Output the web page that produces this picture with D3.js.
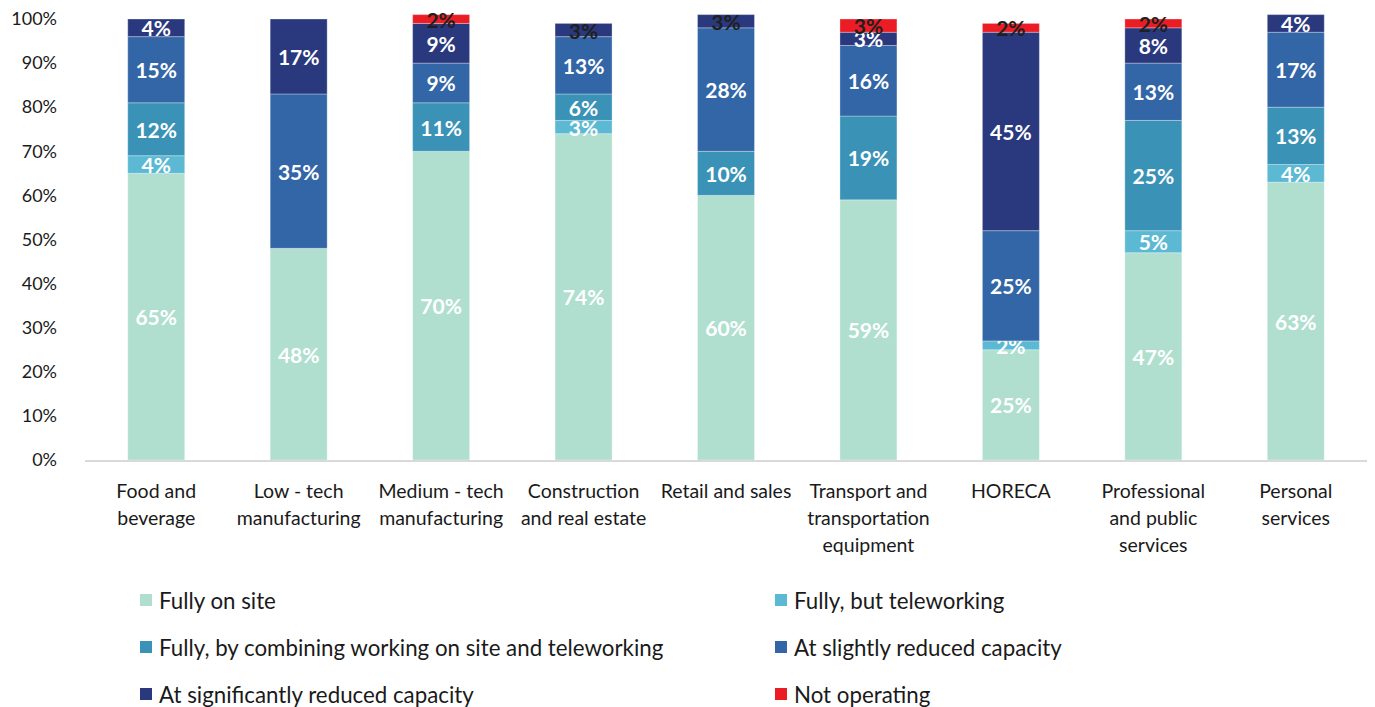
<!DOCTYPE html>
<html>
<head>
<meta charset="utf-8">
<script src="https://cdn.jsdelivr.net/npm/d3@7"></script>
<style>
  body { margin: 0; background: #ffffff; }
  svg text { font-family: Lato, "Open Sans", sans-serif; }
</style>
</head>
<body>
<svg id="chart" width="1375" height="707"></svg>
<script>
// Sector names ("\n" marks where the axis label wraps)
const categories = [
  "Food and\nbeverage",
  "Low - tech\nmanufacturing",
  "Medium - tech\nmanufacturing",
  "Construction\nand real estate",
  "Retail and sales",
  "Transport and\ntransportation\nequipment",
  "HORECA",
  "Professional\nand public\nservices",
  "Personal\nservices"
];

// Operating status, in stacking order (bottom to top)
const seriesNames = [
  "Fully on site",
  "Fully, but teleworking",
  "Fully, by combining working on site and teleworking",
  "At slightly reduced capacity",
  "At significantly reduced capacity",
  "Not operating"
];

// Share of firms (%) per sector
const fullyOnSite          = [65, 48, 70, 74, 60, 59, 25, 47, 63];
const fullyTeleworking     = [ 4,  0,  0,  3,  0,  0,  2,  5,  4];
const fullyCombining       = [12,  0, 11,  6, 10, 19,  0, 25, 13];
const slightlyReduced      = [15, 35,  9, 13, 28, 16, 25, 13, 17];
const significantlyReduced = [ 4, 17,  9,  3,  3,  3, 45,  8,  4];
const notOperating         = [ 0,  0,  2,  0,  0,  3,  2,  2,  0];

const yTickValues = [0, 0.1, 0.2, 0.3, 0.4, 0.5, 0.6, 0.7, 0.8, 0.9, 1.0];

const seriesColors = ["#b0dfcf", "#5cb9d3", "#3a93b6", "#3366a6", "#2a397e", "#ec1c24"];

const seriesValues = [fullyOnSite, fullyTeleworking, fullyCombining,
                      slightlyReduced, significantlyReduced, notOperating];

// Build one row per sector for d3.stack
const rows = categories.map((c, i) => {
  const r = { category: c };
  seriesNames.forEach((s, k) => { r[s] = seriesValues[k][i] / 100; });
  return r;
});

const svg = d3.select("#chart");

const x = d3.scaleBand()
  .domain(categories)
  .range([85, 1367])
  .paddingInner(0.6)
  .paddingOuter(0.3);

const y = d3.scaleLinear()
  .domain([0, 1])
  .range([460, 19]);

const color = d3.scaleOrdinal().domain(seriesNames).range(seriesColors);

const stacked = d3.stack().keys(seriesNames)(rows);

// Y axis: labels only
const yAxis = svg.append("g")
  .attr("transform", "translate(57,0)")
  .call(d3.axisLeft(y).tickValues(yTickValues).tickFormat(d3.format(".0%")).tickSize(0).tickPadding(0));
yAxis.select(".domain").remove();
yAxis.selectAll("text")
  .attr("font-size", 18)
  .attr("fill", "#1a1a1a")
  .style("font-family", "Lato, 'Open Sans', sans-serif");

// Stacked bars
const layers = svg.append("g").selectAll("g")
  .data(stacked)
  .join("g")
  .attr("fill", d => color(d.key));

layers.selectAll("rect")
  .data(d => d.filter(p => p[1] - p[0] > 0))
  .join("rect")
  .attr("x", p => x(p.data.category))
  .attr("width", x.bandwidth())
  .attr("y", p => y(p[1]))
  .attr("height", p => y(p[0]) - y(p[1]))
  .attr("stroke", "#ffffff")
  .attr("stroke-opacity", 0.3)
  .attr("stroke-width", 1);

// Baseline
svg.append("line")
  .attr("x1", x.range()[0]).attr("x2", x.range()[1])
  .attr("y1", y(0) + 1).attr("y2", y(0) + 1)
  .attr("stroke", "#d9d9d9").attr("stroke-width", 2);

// Topmost non-zero series for each sector
const topKey = {};
rows.forEach(r => {
  let k = null;
  seriesNames.forEach(s => { if (r[s] > 0) k = s; });
  topKey[r.category] = k;
});

// Value labels centred in each segment
const pct = d3.format(".0%");
layers.each(function(layer) {
  d3.select(this).selectAll("text")
    .data(layer.filter(p => p[1] - p[0] > 0))
    .join("text")
    .attr("x", p => x(p.data.category) + x.bandwidth() / 2)
    .attr("y", p => (y(p[0]) + y(p[1])) / 2)
    .attr("text-anchor", "middle")
    .attr("dominant-baseline", "central")
    .attr("font-size", 21)
    .attr("font-weight", "bold")
    .attr("fill", p => {
      const v = p[1] - p[0];
      return (topKey[p.data.category] === layer.key && v <= 0.0301) ? "#1f1f1f" : "#ffffff";
    })
    .text(p => pct(p[1] - p[0]));
});

// Category labels
const xLabels = svg.append("g").selectAll("text")
  .data(categories)
  .join("text")
  .attr("x", c => x(c) + x.bandwidth() / 2)
  .attr("y", 498)
  .attr("text-anchor", "middle")
  .attr("font-size", 19.5)
  .attr("fill", "#1a1a1a");
xLabels.selectAll("tspan")
  .data(c => c.split("\n"))
  .join("tspan")
  .attr("x", function() { return d3.select(this.parentNode).attr("x"); })
  .attr("dy", (d, i) => i === 0 ? 0 : 27)
  .text(d => d);

// Legend: two columns, three rows
const legend = svg.append("g").selectAll("g")
  .data(seriesNames)
  .join("g")
  .attr("transform", (s, i) => `translate(${i % 2 === 0 ? 140 : 775},${600 + Math.floor(i / 2) * 47})`);
legend.append("rect")
  .attr("x", 0).attr("y", -6)
  .attr("width", 12).attr("height", 12)
  .attr("fill", s => color(s));
legend.append("text")
  .attr("x", 19).attr("y", 0)
  .attr("dominant-baseline", "central")
  .attr("font-size", 22.3)
  .attr("fill", "#1a1a1a")
  .text(s => s);
</script>
</body>
</html>
